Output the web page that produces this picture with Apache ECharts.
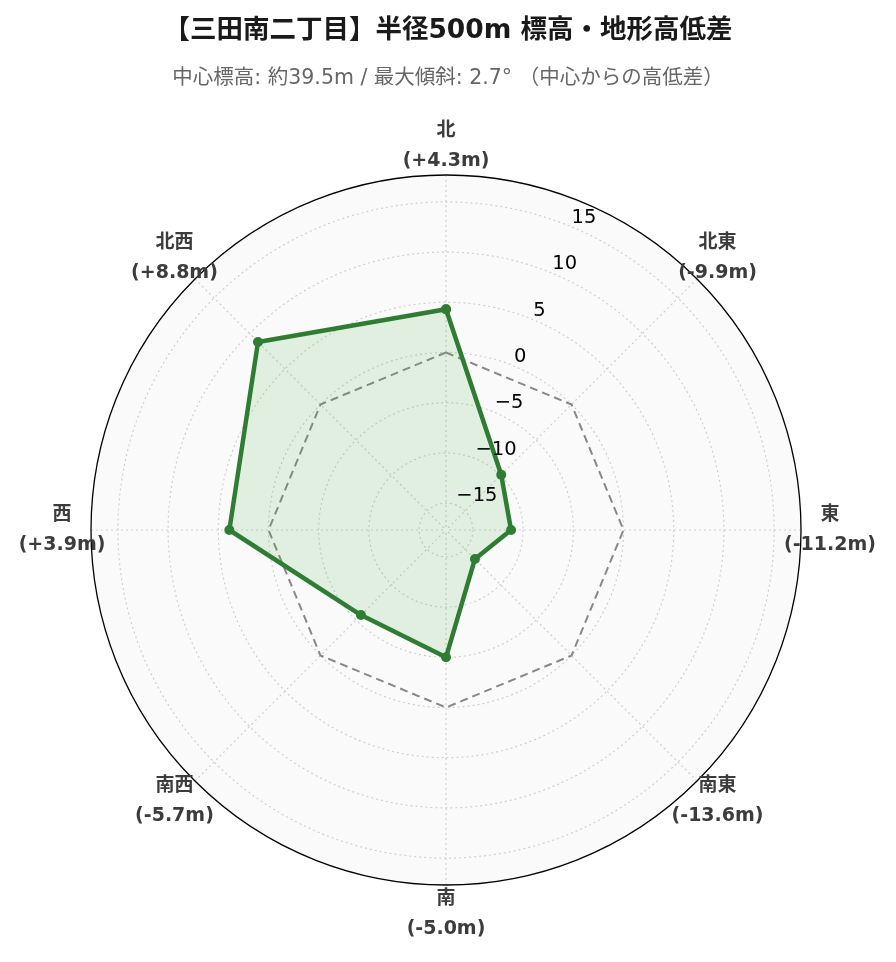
<!DOCTYPE html>
<html>
<head>
<meta charset="utf-8">
<script src="https://cdn.jsdelivr.net/npm/echarts@6/dist/echarts.min.js"></script>
<style>
  html, body { margin: 0; padding: 0; background: #ffffff; }
  #chart { width: 896px; height: 962px; }
</style>
</head>
<body>
<div id="chart"></div>
<script>
// ---- data ----
const TITLE = '【三田南二丁目】半径500m 標高・地形高低差';
const SUBTITLE = '中心標高: 約39.5m / 最大傾斜: 2.7° （中心からの高低差）';
const DIRECTIONS = ['北', '北東', '東', '南東', '南', '南西', '西', '北西'];
const ANGLES = [0, 45, 90, 135, 180, 225, 270, 315];
const DIFFS = [4.3, -9.9, -11.2, -13.6, -5.0, -5.7, 3.9, 8.8];
const RADIAL_TICKS = [-15, -10, -5, 0, 5, 10, 15];
const R_RANGE = [-17.68, 17.68];

// ---- build ----
const FONT = '"DejaVu Sans", "Noto Sans CJK JP", sans-serif';
const CENTER = [446, 530];
const RADIUS = 355;
const LABEL_R = R_RANGE[0] + (R_RANGE[1] - R_RANGE[0]) * 384 / RADIUS;

const closed = arr => arr.concat([arr[0]]);
const angClosed = ANGLES.concat([360]);
const mainData = closed(DIFFS).map((v, i) => [v, angClosed[i]]);
const zeroData = angClosed.map(a => [0, a]);
const fmtDiff = v => '(' + (v > 0 ? '+' : '') + v.toFixed(1) + 'm)';
const labelData = ANGLES.map((a, i) => ({
  value: [LABEL_R, a],
  name: DIRECTIONS[i] + '\n' + fmtDiff(DIFFS[i])
}));

const GRID_LINE = { color: '#cfcfcf', width: 1.2, type: [2, 3] };

const chart = echarts.init(document.getElementById('chart'), null, { renderer: 'canvas' });
chart.setOption({
  backgroundColor: '#ffffff',
  animation: false,
  title: {
    text: TITLE,
    subtext: SUBTITLE,
    left: 'center',
    top: 13,
    itemGap: 24,
    textStyle: { fontFamily: FONT, fontSize: 26.5, fontWeight: 'bold', color: '#1a1a1a' },
    subtextStyle: { fontFamily: FONT, fontSize: 20.5, color: '#666' }
  },
  polar: [
    { center: CENTER, radius: RADIUS },
    { center: CENTER, radius: RADIUS }
  ],
  angleAxis: [
    {
      polarIndex: 0,
      type: 'value', min: 0, max: 360, interval: 45,
      startAngle: 90, clockwise: true,
      z: 1,
      axisLine: { show: true, lineStyle: { color: '#000', width: 1.3 } },
      axisTick: { show: false },
      axisLabel: { show: false },
      splitLine: { show: true, lineStyle: GRID_LINE },
      splitArea: { show: false }
    },
    {
      polarIndex: 1,
      type: 'value', min: 0, max: 360, interval: 45,
      startAngle: 67.5, clockwise: true,
      z: 0,
      axisLine: { show: false },
      axisTick: { show: false },
      axisLabel: { show: false },
      splitLine: { show: false },
      splitArea: { show: true, areaStyle: { color: ['#fafafa'] } }
    }
  ],
  radiusAxis: [
    {
      polarIndex: 0,
      type: 'value', min: R_RANGE[0], max: R_RANGE[1],
      z: 1,
      axisLine: { show: false },
      axisTick: { show: false, customValues: RADIAL_TICKS },
      axisLabel: { show: false, customValues: RADIAL_TICKS },
      splitLine: { show: true, lineStyle: GRID_LINE },
      splitArea: { show: false }
    },
    {
      polarIndex: 1,
      type: 'value', min: R_RANGE[0], max: R_RANGE[1],
      z: 10,
      axisLine: { show: false },
      axisTick: { show: false, customValues: RADIAL_TICKS },
      splitLine: { show: false },
      axisLabel: {
        show: true,
        customValues: RADIAL_TICKS,
        margin: 0,
        align: 'left',
        verticalAlign: 'bottom',
        rotate: 0,
        fontFamily: FONT,
        fontSize: 19.5,
        lineHeight: 18,
        color: '#000',
        formatter: v => (v < 0 ? '\u2212' + Math.abs(v) : String(v))
      }
    }
  ],
  series: [
    {
      type: 'line',
      coordinateSystem: 'polar',
      polarIndex: 0,
      data: zeroData,
      symbol: 'none',
      silent: true,
      lineStyle: { color: '#888', width: 2, type: [8, 5] },
      z: 2
    },
    {
      type: 'line',
      coordinateSystem: 'polar',
      polarIndex: 0,
      data: mainData,
      symbol: 'circle',
      symbolSize: 10,
      itemStyle: { color: '#2e7d32' },
      lineStyle: { color: '#2e7d32', width: 4.5 },
      areaStyle: { color: 'rgba(76,175,80,0.2)', origin: 'start' },
      z: 3
    },
    {
      type: 'scatter',
      coordinateSystem: 'polar',
      polarIndex: 0,
      data: labelData,
      symbolSize: 0,
      clip: false,
      silent: true,
      itemStyle: { opacity: 1 },
      label: {
        show: true,
        position: 'inside',
        formatter: p => p.name,
        fontFamily: FONT,
        fontSize: 19,
        fontWeight: 'bold',
        lineHeight: 30,
        align: 'center',
        verticalAlign: 'middle',
        color: '#3c3c3c',
        opacity: 1
      },
      z: 5
    }
  ]
});
</script>
</body>
</html>
